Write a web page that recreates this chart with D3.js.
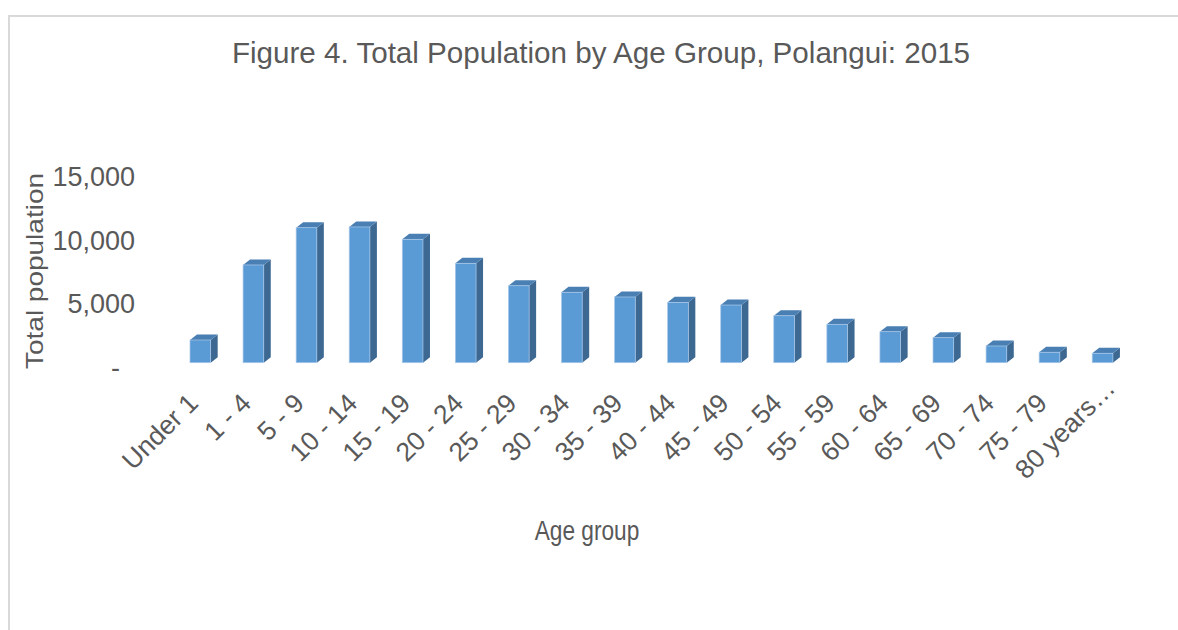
<!DOCTYPE html>
<html>
<head>
<meta charset="utf-8">
<script src="https://cdn.jsdelivr.net/npm/d3@7"></script>
<style>
  html, body { margin: 0; padding: 0; background: #fff; }
  svg { display: block; font-family: Arial, "Liberation Sans", sans-serif; }
</style>
</head>
<body>
<svg width="1178" height="630"></svg>
<script>
const width = 1178;
const height = 630;

const categories = ["Under 1", "1 - 4", "5 - 9", "10 - 14", "15 - 19", "20 - 24", "25 - 29",
  "30 - 34", "35 - 39", "40 - 44", "45 - 49", "50 - 54", "55 - 59", "60 - 64", "65 - 69",
  "70 - 74", "75 - 79", "80 years…"];
const population = [1780, 7660, 10580, 10640, 9670, 7790, 6030, 5520, 5150, 4730, 4520,
  3680, 3010, 2430, 1960, 1310, 820, 740];
const yTicks = [0, 5000, 10000, 15000];
// accounting style: zero shows as a dash with trailing space
const yTickLabels = ["-\u00a0\u00a0", "5,000", "10,000", "15,000"];

const textColor = "#595959";
const front = "#5b9bd5";
const topFace = "#4a7fb3";
const side = "#3c6892";
const depthX = 7;
const depthY = -5.5;

const svg = d3.select("svg");

svg.append("rect")
    .attr("width", width)
    .attr("height", height)
    .attr("fill", "#fff");

// chart frame
svg.append("rect")
    .attr("x", 9)
    .attr("y", 16)
    .attr("width", width + 20)
    .attr("height", height + 20)
    .attr("fill", "none")
    .attr("stroke", "#d9d9d9")
    .attr("stroke-width", 2);

const x = d3.scaleBand()
    .domain(categories)
    .range([173.8, 1129.1])
    .paddingInner(0.61)
    .paddingOuter(0.305);

const y = d3.scaleLinear()
    .domain([0, 15000])
    .range([362.7, 171.3]);

const data = categories.map((c, i) => ({ cat: c, value: population[i] }));

svg.append("g")
    .selectAll("g")
    .data(data)
    .join("g")
    .each(function (d) {
        const x0 = x(d.cat);
        const x1 = x0 + x.bandwidth();
        const y0 = y(0);
        const y1 = y(d.value);
        const g = d3.select(this);
        // right side
        g.append("path")
            .attr("d", `M${x1},${y1}L${x1 + depthX},${y1 + depthY}L${x1 + depthX},${y0 + depthY}L${x1},${y0}Z`)
            .attr("fill", side);
        // top
        g.append("path")
            .attr("d", `M${x0},${y1}L${x0 + depthX},${y1 + depthY}L${x1 + depthX},${y1 + depthY}L${x1},${y1}Z`)
            .attr("fill", topFace);
        // front
        g.append("rect")
            .attr("x", x0)
            .attr("y", y1)
            .attr("width", x.bandwidth())
            .attr("height", y0 - y1)
            .attr("fill", front)
            .attr("stroke", "#a9c8ea")
            .attr("stroke-width", 0.7);
    });

// y axis
const yAxis = svg.append("g")
    .attr("transform", "translate(135,5.4)")
    .call(d3.axisLeft(y)
        .tickValues(yTicks)
        .tickFormat((d, i) => yTickLabels[i])
        .tickSize(0)
        .tickPadding(0));
yAxis.select(".domain").remove();
yAxis.selectAll("text")
    .attr("fill", textColor)
    .attr("font-size", 27)
    .attr("font-family", "Arial, 'Liberation Sans', sans-serif");

// x axis
const last = categories[categories.length - 1];
const xAxis = svg.append("g")
    .attr("transform", "translate(0,404)")
    .call(d3.axisBottom(x).tickSize(0));
xAxis.select(".domain").remove();
xAxis.selectAll("text")
    .attr("x", d => d === last ? 20 : -1)
    .attr("y", 0)
    .attr("dy", 0)
    .attr("transform", "rotate(-45)")
    .attr("text-anchor", "end")
    .attr("fill", textColor)
    .attr("font-size", 26.5)
    .attr("font-family", "Arial, 'Liberation Sans', sans-serif");

// titles
svg.append("text")
    .attr("x", 601)
    .attr("y", 63)
    .attr("text-anchor", "middle")
    .attr("fill", textColor)
    .attr("font-size", 29.6)
    .text("Figure 4. Total Population by Age Group, Polangui: 2015");

svg.append("text")
    .attr("transform", "translate(43,271) scale(0.85,1) rotate(-90)")
    .attr("text-anchor", "middle")
    .attr("fill", textColor)
    .attr("font-size", 28)
    .text("Total population");

svg.append("text")
    .attr("transform", "translate(587,540) scale(0.81,1)")
    .attr("text-anchor", "middle")
    .attr("fill", textColor)
    .attr("font-size", 28)
    .text("Age group");
</script>
</body>
</html>
